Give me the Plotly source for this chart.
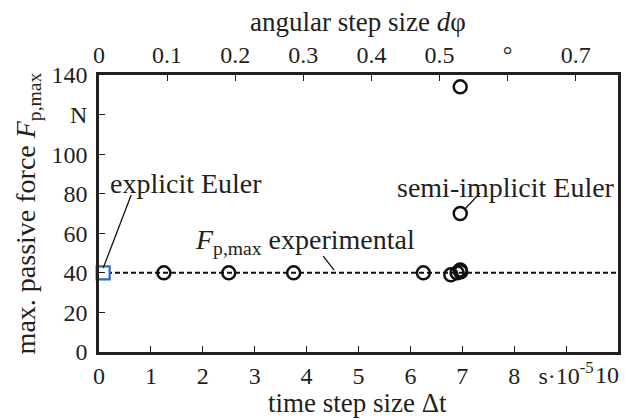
import plotly.graph_objects as go

# data
semi_dt = [1.25, 2.5, 3.75, 6.25, 6.78, 6.9, 6.96, 6.97, 6.96, 6.96]
semi_F = [40, 40, 40, 40, 39, 40, 41.5, 40.5, 70, 134]
expl_dt = [0.08]
expl_F = [40]
exp_F = 40
x_range = [0, 10]
phi_range = [0, 0.762]
x_tickvals = [0, 1, 2, 3, 4, 5, 6, 7, 8, 9, 10]
x_ticktext = ["0", "1", "2", "3", "4", "5", "6", "7", "8", "s·10<sup>-5</sup>", ""]
x_last_label = "10"
phi_tickvals = [0, 0.1, 0.2, 0.3, 0.4, 0.5, 0.6, 0.7]
phi_ticktext = ["0", "0.1", "0.2", "0.3", "0.4", "0.5", "°", "0.7"]
y_tickvals = [0, 20, 40, 60, 80, 100, 120, 140]
y_ticktext = ["0", "20", "40", "60", "80", "100", "N", "140"]

FONT = "Liberation Serif, Times New Roman, serif"
TXT = "#231f20"
TICK = 24
TITLE = 27
ANN = 28

fig = go.Figure()
fig.add_trace(go.Scatter(x=x_range, y=[exp_F, exp_F], mode="lines",
                         line=dict(color="#111", width=2, dash="5px,3px"),
                         showlegend=False, hoverinfo="skip"))
fig.add_trace(go.Scatter(x=semi_dt, y=semi_F, mode="markers",
                         marker=dict(symbol="circle-open", size=13, color="#111",
                                     line=dict(width=2.5, color="#111")),
                         showlegend=False))
fig.add_trace(go.Scatter(x=expl_dt, y=expl_F, mode="markers",
                         marker=dict(symbol="square", size=13, color="white",
                                     line=dict(width=2.2, color="#2a6ebb")),
                         showlegend=False, cliponaxis=False))
fig.add_trace(go.Scatter(x=phi_range, y=[None, None], xaxis="x2", mode="lines",
                         showlegend=False, hoverinfo="skip"))

axis_common = dict(showline=True, linecolor="#231f20", linewidth=2.5,
                   ticks="inside", ticklen=6, tickwidth=1.2, tickcolor="#231f20",
                   showgrid=False, zeroline=False, automargin=False,
                   ticklabeloverflow="allow",
                   tickfont=dict(family=FONT, size=TICK, color=TXT))

# page body has an 8px default margin; figure sized to fit inside the window
fig.update_layout(
    width=622, height=412,
    margin=dict(l=91, r=12, t=67, b=68),
    paper_bgcolor="white", plot_bgcolor="white",
    font=dict(family=FONT, color=TXT),
    xaxis=dict(range=x_range, tickmode="array", tickvals=x_tickvals, ticktext=x_ticktext,
               mirror=True, **axis_common),
    xaxis2=dict(range=phi_range, overlaying="x", side="top", anchor="y",
                tickmode="array", tickvals=phi_tickvals, ticktext=phi_ticktext,
                **axis_common),
    yaxis=dict(range=[0, 140], tickmode="array", tickvals=y_tickvals, ticktext=y_ticktext,
               mirror=True, ticklabelstandoff=4, **axis_common),
)

# last bottom tick label, kept inside the window
fig.add_annotation(x=x_tickvals[-1], xref="x", yref="paper", y=-0.083, text=x_last_label,
                   showarrow=False, xanchor="right", yanchor="middle", xshift=3,
                   font=dict(family=FONT, size=TICK, color=TXT))

# axis titles (as paper annotations for exact placement)
fig.add_annotation(xref="paper", yref="paper", x=0.499, y=-0.184, text="time step size Δt",
                   showarrow=False, xanchor="center", yanchor="middle",
                   font=dict(family=FONT, size=TITLE, color=TXT))
fig.add_annotation(xref="paper", yref="paper", x=0.499, y=1.191, text="angular step size <i>d</i>φ",
                   showarrow=False, xanchor="center", yanchor="middle",
                   font=dict(family=FONT, size=TITLE, color=TXT))
fig.add_annotation(xref="paper", yref="paper", x=-0.137, y=0.50,
                   text="max. passive force <i>F</i><sub>p,max</sub>", textangle=-90,
                   showarrow=False, xanchor="center", yanchor="middle",
                   font=dict(family=FONT, size=TITLE + 1, color=TXT))

# in-plot labels
fig.add_annotation(x=0.17, y=85.4, text="explicit Euler", showarrow=False,
                   xanchor="left", yanchor="middle", font=dict(family=FONT, size=ANN, color=TXT))
fig.add_annotation(x=5.70, y=82.9, text="semi-implicit Euler", showarrow=False,
                   xanchor="left", yanchor="middle", font=dict(family=FONT, size=ANN, color=TXT))
fig.add_annotation(x=1.81, y=56.1, text="<i>F</i><sub>p,max</sub> experimental", showarrow=False,
                   xanchor="left", yanchor="middle", font=dict(family=FONT, size=ANN, color=TXT))

fig.add_shape(type="line", x0=0.62, y0=79.3, x1=expl_dt[0], y1=expl_F[0] + 2.4,
              line=dict(color="#111", width=1.3))
fig.add_shape(type="line", x0=7.34, y0=80.3, x1=semi_dt[8] + 0.09, y1=semi_F[8] + 2.3,
              line=dict(color="#111", width=1.3))
fig.add_shape(type="line", x0=4.32, y0=48.5, x1=4.53, y1=exp_F + 1.4,
              line=dict(color="#111", width=1.3))

fig.write_html("out.html")
